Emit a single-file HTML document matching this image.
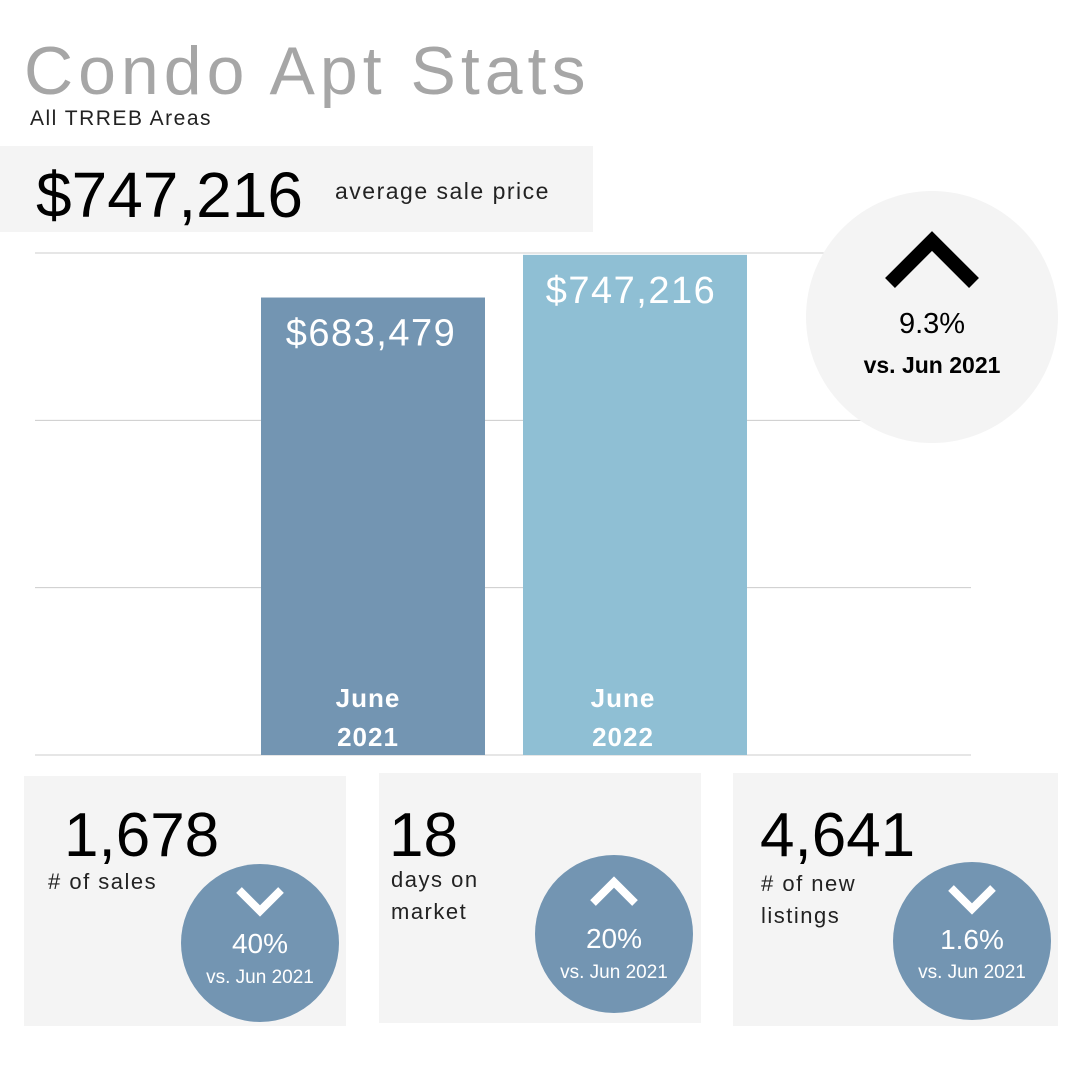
<!DOCTYPE html>
<html><head><meta charset="utf-8"><style>
body{margin:0;width:1080px;height:1080px;background:#fff;position:relative;overflow:hidden;font-family:"Liberation Sans",sans-serif}
.a{position:absolute;white-space:nowrap}
.card{position:absolute;background:#f4f4f4}
.circ{position:absolute;border-radius:50%;background:#7395b2;color:#fff;text-align:center}
</style></head><body>
<div class="a" style="left:24px;top:32px;font-size:68px;color:#a6a6a6;letter-spacing:5px">Condo Apt Stats</div>
<div class="a" style="left:30px;top:107px;font-size:21px;color:#222;letter-spacing:1.5px">All TRREB Areas</div>
<div class="card" style="left:0;top:146px;width:593px;height:86px"></div>
<div class="a" style="left:36px;top:158px;font-size:64px;color:#000">$747,216</div>
<div class="a" style="left:335px;top:178px;font-size:23px;color:#222;letter-spacing:1.5px">average sale price</div>
<svg class="a" style="left:0;top:0" width="1080" height="1080" id="chart"></svg>
<div class="a" style="left:806px;top:191px;width:252px;height:252px;border-radius:50%;background:#f4f4f4"></div>
<svg class="a" style="left:880px;top:228px" width="104" height="64"><polyline points="10,55 52,13 94,55" fill="none" stroke="#000" stroke-width="14"/></svg>
<div class="a" style="left:806px;top:308px;width:252px;text-align:center;font-size:29px">9.3%</div>
<div class="a" style="left:806px;top:352px;width:252px;text-align:center;font-size:23px;font-weight:bold">vs. Jun 2021</div>

<div class="card" style="left:24px;top:776px;width:322px;height:250px"></div>
<div class="card" style="left:379px;top:773px;width:322px;height:250px"></div>
<div class="card" style="left:733px;top:773px;width:325px;height:253px"></div>

<div class="a" style="left:64px;top:800px;font-size:62px">1,678</div>
<div class="a" style="left:48px;top:869px;font-size:22px;color:#222;letter-spacing:1.5px"># of sales</div>
<div class="a" style="left:389px;top:800px;font-size:62px">18</div>
<div class="a" style="left:391px;top:864px;font-size:22px;color:#222;line-height:32px;letter-spacing:1.5px">days on<br>market</div>
<div class="a" style="left:760px;top:800px;font-size:62px">4,641</div>
<div class="a" style="left:761px;top:868px;font-size:22px;color:#222;line-height:32px;letter-spacing:1.5px"># of new<br>listings</div>

<div class="circ" style="left:181px;top:864px;width:158px;height:158px">
<svg style="position:absolute;left:52px;top:20px" width="54" height="34"><polyline points="6,6 27,27 48,6" fill="none" stroke="#fff" stroke-width="8"/></svg>
<div class="a" style="left:0;width:158px;top:64px;font-size:28px">40%</div>
<div class="a" style="left:0;width:158px;top:103px;font-size:19px">vs. Jun 2021</div></div>
<div class="circ" style="left:535px;top:855px;width:158px;height:158px">
<svg style="position:absolute;left:52px;top:20px" width="54" height="34"><polyline points="6,28 27,7 48,28" fill="none" stroke="#fff" stroke-width="8"/></svg>
<div class="a" style="left:0;width:158px;top:68px;font-size:28px">20%</div>
<div class="a" style="left:0;width:158px;top:107px;font-size:19px">vs. Jun 2021</div></div>
<div class="circ" style="left:893px;top:862px;width:158px;height:158px">
<svg style="position:absolute;left:52px;top:20px" width="54" height="34"><polyline points="6,6 27,27 48,6" fill="none" stroke="#fff" stroke-width="8"/></svg>
<div class="a" style="left:0;width:158px;top:62px;font-size:28px">1.6%</div>
<div class="a" style="left:0;width:158px;top:100px;font-size:19px">vs. Jun 2021</div></div>

<script>
const categories=["June|2021","June|2022"];
const values=[683479,747216];
const valueLabels=["$683,479","$747,216"];
const gridTicks=[0,250000,500000,750000];
const colors=["#7395b2","#8fbfd4"];
const svg=document.getElementById('chart');
const NS="http://www.w3.org/2000/svg";
const y0=755,y1=253,vmax=750000;
const y=v=>y0-(v/vmax)*(y0-y1);
const xs=[261,523],bw=224;
function mk(t,a){const e=document.createElementNS(NS,t);for(const k in a)e.setAttribute(k,a[k]);svg.appendChild(e);return e;}
gridTicks.forEach(t=>{
const l=mk('line',{x1:35,x2:971,y1:y(t),y2:y(t),stroke:'#cccccc','stroke-width':1});


});
values.forEach((v,i)=>{
const r=mk('rect',{x:xs[i],y:y(v),width:bw,height:y0-y(v),fill:colors[i]});


const t=mk('text',{x:xs[i]+bw/2-(i?4:2),y:y(v)+48,'text-anchor':'middle',fill:'#fff','font-size':38,'letter-spacing':1.5,'font-family':'Liberation Sans'});
t.textContent=valueLabels[i];


const p=categories[i].split('|');
p.forEach((s,j)=>{
const c=mk('text',{x:xs[i]+bw/2-(i?12:5),y:707+j*39,'text-anchor':'middle',fill:'#fff','font-size':26,'font-weight':'bold','letter-spacing':1,'font-family':'Liberation Sans'});
c.textContent=s;


});
});
</script>
</body></html>
